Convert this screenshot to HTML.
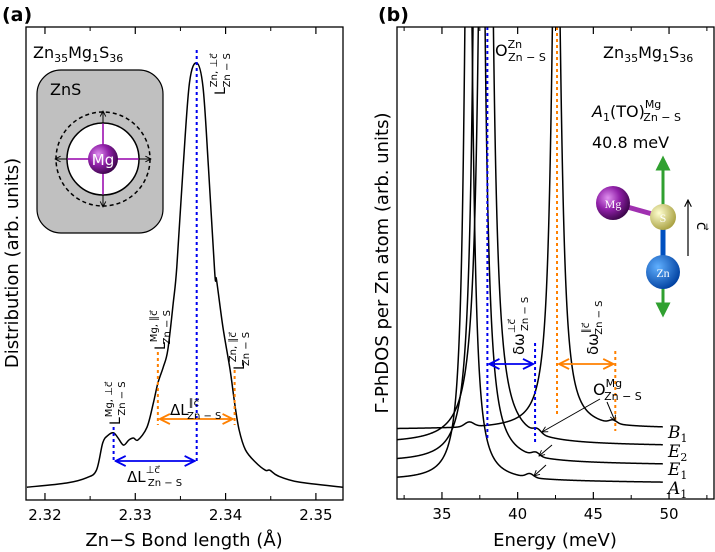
<!DOCTYPE html>
<html><head><meta charset="utf-8"><style>
html,body{margin:0;padding:0;background:#fff;}
svg{display:block;font-family:"DejaVu Sans","Liberation Sans",sans-serif;}
</style></head><body>
<svg id="fig" width="715" height="552" viewBox="0 0 715 552" xmlns="http://www.w3.org/2000/svg">
<defs>
<radialGradient id="gMg" cx="0.35" cy="0.35" r="0.7"><stop offset="0" stop-color="#e090f0"/><stop offset="0.5" stop-color="#9020a8"/><stop offset="1" stop-color="#3a0548"/></radialGradient>
<radialGradient id="gS" cx="0.35" cy="0.35" r="0.7"><stop offset="0" stop-color="#ffffd0"/><stop offset="1" stop-color="#a8a040"/></radialGradient>
<radialGradient id="gZn" cx="0.35" cy="0.35" r="0.7"><stop offset="0" stop-color="#60b0ff"/><stop offset="1" stop-color="#0040a0"/></radialGradient>
<clipPath id="clipA"><rect x="26" y="27" width="317" height="473"/></clipPath>
<clipPath id="clipB"><rect x="397" y="27" width="317" height="472"/></clipPath>
<marker id="ab" viewBox="0 0 10 10" refX="9" refY="5" markerWidth="7" markerHeight="7" orient="auto-start-reverse"><path d="M1,1 L9,5 L1,9" fill="none" stroke="#0000ee" stroke-width="1.5"/></marker>
<marker id="ao" viewBox="0 0 10 10" refX="9" refY="5" markerWidth="7" markerHeight="7" orient="auto-start-reverse"><path d="M1,1 L9,5 L1,9" fill="none" stroke="#ff8000" stroke-width="1.5"/></marker>
<marker id="ak" viewBox="0 0 10 10" refX="9" refY="5" markerWidth="7" markerHeight="7" orient="auto-start-reverse"><path d="M1,1 L9,5 L1,9" fill="none" stroke="#000" stroke-width="1.3"/></marker>
<marker id="ag" viewBox="0 0 10 10" refX="5" refY="5" markerWidth="5" markerHeight="5" orient="auto"><path d="M0,0 L10,5 L0,10 Z" fill="#30a030"/></marker>
</defs>

<text x="2" y="21" font-size="19" font-weight="bold">(a)</text>
<text x="378" y="21" font-size="19" font-weight="bold">(b)</text>

<g id="panelA"></g>
<g id="panelB"></g>

<text transform="translate(18,263) rotate(-90)" text-anchor="middle" font-size="18">Distribution (arb. units)</text>
<text x="184" y="546" text-anchor="middle" font-size="18">Zn−S Bond length (Å)</text>
<text x="33" y="58" font-size="16">Zn<tspan font-size="11" dy="4">35</tspan><tspan dy="-4">Mg</tspan><tspan font-size="11" dy="4">1</tspan><tspan dy="-4">S</tspan><tspan font-size="11" dy="4">36</tspan></text>
<g>
<rect x="37" y="70" width="126" height="163" rx="24" fill="#c0c0c0" stroke="#000" stroke-width="1.2"/>
<text x="50" y="95" font-size="16">ZnS</text>
<circle cx="103" cy="159" r="47" fill="none" stroke="#000" stroke-width="1.5" stroke-dasharray="4,3"/>
<circle cx="103" cy="159" r="36" fill="#fff" stroke="#000" stroke-width="1.5"/>
<g stroke="#b040c0" stroke-width="2"><line x1="67" y1="159" x2="139" y2="159"/><line x1="103" y1="123" x2="103" y2="195"/></g>
<g stroke="#000" stroke-width="1" marker-end="url(#ak)"><line x1="103" y1="124" x2="103" y2="111"/><line x1="103" y1="194" x2="103" y2="207"/><line x1="68" y1="159" x2="55" y2="159"/><line x1="138" y1="159" x2="151" y2="159"/></g>
<circle cx="103" cy="159" r="15" fill="url(#gMg)"/>
<text x="103" y="165" text-anchor="middle" font-size="15" fill="#fff">Mg</text>
</g>

<text transform="translate(388,263) rotate(-90)" text-anchor="middle" font-size="18">Γ-PhDOS per Zn atom (arb. units)</text>
<text x="555" y="546" text-anchor="middle" font-size="18">Energy (meV)</text>
<text x="603" y="58" font-size="16">Zn<tspan font-size="11" dy="4">35</tspan><tspan dy="-4">Mg</tspan><tspan font-size="11" dy="4">1</tspan><tspan dy="-4">S</tspan><tspan font-size="11" dy="4">36</tspan></text>
<text x="495" y="56" font-size="16">O<tspan font-size="11" dy="-8">Zn</tspan><tspan font-size="11" dx="-14" dy="13">Zn − S</tspan></text>
<text x="592" y="117" font-size="16"><tspan font-style="italic">A</tspan><tspan font-size="11" dy="4">1</tspan><tspan dy="-4">(TO)</tspan><tspan font-size="11" dy="-9">Mg</tspan><tspan font-size="11" dx="-18" dy="13">Zn − S</tspan></text>
<text x="592" y="148" font-size="16">40.8 meV</text>
<g>
<line x1="613" y1="203" x2="663" y2="217" stroke="#a030b0" stroke-width="5"/>
<line x1="663" y1="217" x2="663" y2="272" stroke="#0050c0" stroke-width="5"/>
<line x1="663" y1="205" x2="663" y2="163" stroke="#30a030" stroke-width="3" marker-end="url(#ag)"/>
<line x1="663" y1="285" x2="663" y2="310" stroke="#30a030" stroke-width="3" marker-end="url(#ag)"/>
<circle cx="613" cy="203" r="17" fill="url(#gMg)"/>
<circle cx="663" cy="217" r="13" fill="url(#gS)"/>
<circle cx="663" cy="272" r="17" fill="url(#gZn)"/>
<text x="613" y="208" text-anchor="middle" font-size="12" fill="#fff" font-family="Liberation Serif,serif">Mg</text>
<text x="663" y="222" text-anchor="middle" font-size="12" fill="#fff" font-family="Liberation Serif,serif">S</text>
<text x="663" y="277" text-anchor="middle" font-size="12" fill="#fff" font-family="Liberation Serif,serif">Zn</text>
<line x1="688" y1="256" x2="688" y2="200" stroke="#000" stroke-width="1.2" marker-end="url(#ak)"/>
<text transform="translate(697,226) rotate(90)" text-anchor="middle" font-size="15">c⃗</text>
</g>
<g>
<text x="593" y="395" font-size="16">O<tspan font-size="11" dy="-8">Mg</tspan><tspan font-size="11" dx="-18" dy="13">Zn − S</tspan></text>
<g stroke="#000" stroke-width="1" fill="none" marker-end="url(#ak)">
<line x1="600" y1="399" x2="542" y2="432"/>
<line x1="607" y1="402" x2="615" y2="421"/>
<line x1="552" y1="445" x2="539" y2="456"/>
<line x1="546" y1="465" x2="534" y2="476"/>
</g></g>
<g font-size="17" font-style="italic" font-family="DejaVu Serif,Liberation Serif,serif">
<text x="668" y="438">B<tspan font-size="11" dy="4" font-style="normal">1</tspan></text>
<text x="668" y="457">E<tspan font-size="11" dy="4" font-style="normal">2</tspan></text>
<text x="668" y="475">E<tspan font-size="11" dy="4" font-style="normal">1</tspan></text>
<text x="668" y="494">A<tspan font-size="11" dy="4" font-style="normal">1</tspan></text>
</g>
</svg>
<script>
// ---------- Panel A data ----------
const bondLengths = [2.3180,2.3224,2.3246,2.3257,2.3264,2.3270,2.3276,2.3281,2.3287,2.3293,2.3298,2.3303,2.3313,2.3320,2.3325,2.3331,2.3336,2.3342,2.3346,2.3353,2.3360,2.3368,2.3375,2.3381,2.3388,2.3390,2.3397,2.3405,2.3410,2.3415,2.3422,2.3433,2.3444,2.3449,2.3458,2.3481,2.3530];
const distribution = [2.7,3.6,4.7,6.3,12.1,13.7,14.2,13.1,11.6,12.7,13.1,12.7,15.4,20.5,24.7,28.1,31.7,41.6,49.3,70.4,88.2,92.4,87.3,70.4,48.0,46.5,36.6,27.5,20.5,14.8,10.6,8.0,6.3,6.3,5.1,3.8,2.7];
const aTicks = [2.32,2.33,2.34,2.35];
const aTickLabels = ["2.32","2.33","2.34","2.35"];
const aMinorTicks = [2.325,2.335,2.345];
const markLperpMg = 2.3276, markLperpZn = 2.3368, markLparMg = 2.3325, markLparZn = 2.3410;

// ---------- Panel B data ----------
const energyTicks = [35,40,45,50];
const energyTickLabels = ["35","40","45","50"];
const energyMinor = [32.5,37.5,42.5,47.5,52.5];
const modes = ["B1","E2","E1","A1"];
const peakCenters = [42.55,37.9,37.45,36.75];
const peakWidths = [0.35,0.3,0.3,0.3];
const peakStrengths = [16,30,23,14];
const baselineLeft = [14.8,11.7,7.8,4.0];
const baselineRight = [15.0,11.2,7.2,3.4];
const shoulderCenters = [46.3,41.3,41.2,40.8];
const shoulderHeights = [0.7,0.9,0.8,0.8];
const b1BumpCenter = 36.8, b1BumpHeight = 1.0;
const markOperp = 38.0, markOperpMg = 41.15, markOpar = 42.6, markOparMg = 46.45;

const NS = "http://www.w3.org/2000/svg";
function mk(tag, attrs, parent){const e=document.createElementNS(NS,tag);for(const k in attrs)e.setAttribute(k,attrs[k]);parent.appendChild(e);return e;}

const A = {x0:26,x1:343,y0:500,y1:27,xmin:2.3179,xmax:2.3530,ymin:0,ymax:100};
const ax = v => A.x0 + (v-A.xmin)/(A.xmax-A.xmin)*(A.x1-A.x0);
const ay = v => A.y0 - (v-A.ymin)/(A.ymax-A.ymin)*(A.y0-A.y1);
const gA = document.getElementById('panelA');

function catmull(pts){
  let d = "M"+pts[0][0].toFixed(2)+","+pts[0][1].toFixed(2);
  for(let i=0;i<pts.length-1;i++){
    const p0=pts[Math.max(0,i-1)],p1=pts[i],p2=pts[i+1],p3=pts[Math.min(pts.length-1,i+2)];
    const c1=[p1[0]+(p2[0]-p0[0])/6,p1[1]+(p2[1]-p0[1])/6];
    const c2=[p2[0]-(p3[0]-p1[0])/6,p2[1]-(p3[1]-p1[1])/6];
    d+=" C"+c1[0].toFixed(2)+","+c1[1].toFixed(2)+" "+c2[0].toFixed(2)+","+c2[1].toFixed(2)+" "+p2[0].toFixed(2)+","+p2[1].toFixed(2);
  }
  return d;
}
const ptsA = bondLengths.map((b,i)=>[ax(b),ay(distribution[i])]);
const curveA = mk('path',{d:catmull(ptsA),fill:'none',stroke:'#000','stroke-width':1.5,'clip-path':'url(#clipA)'},gA);



function vline(g,x,yTop,yBot,color,name){
  const l=mk('line',{x1:x,y1:yTop,x2:x,y2:yBot,stroke:color,'stroke-width':2,'stroke-dasharray':'3,3'},g);
  
  
}
function harrow(g,xa,xb,y,marker,color,name){
  const l=mk('line',{x1:xa+2,y1:y,x2:xb-2,y2:y,stroke:color,'stroke-width':1.8,'marker-start':'url(#'+marker+')','marker-end':'url(#'+marker+')'},g);
  
  
}
vline(gA,ax(markLperpZn),50,463,'#0000ee','l-perp-zn-marker');
vline(gA,ax(markLperpMg),427,463,'#0000ee','l-perp-mg-marker');
harrow(gA,ax(markLperpMg),ax(markLperpZn),461,'ab','#0000ee','delta-l-perp-arrow');
vline(gA,ax(markLparMg),352,425,'#ff8000','l-par-mg-marker');
vline(gA,ax(markLparZn),370,425,'#ff8000','l-par-zn-marker');
harrow(gA,ax(markLparMg),ax(markLparZn),419,'ao','#ff8000','delta-l-par-arrow');

function rotLabel(g,x,y,sup,name){
  const t=mk('text',{transform:'translate('+x+','+y+') rotate(-90)','font-size':14},g);
  t.innerHTML='L<tspan font-size="10" dy="-8">'+sup+'</tspan><tspan font-size="10" dx="-34" dy="13">Zn − S</tspan>';
  
  
}
rotLabel(gA,225,95,'Zn, ⊥c⃗','l-zn-perp-label');
rotLabel(gA,120,425,'Mg, ⊥c⃗','l-mg-perp-label');
rotLabel(gA,165,350,'Mg, ∥c⃗','l-mg-par-label');
rotLabel(gA,244,370,'Zn, ∥c⃗','l-zn-par-label');
const dlp=mk('text',{x:170,y:415,'font-size':15},gA);
dlp.innerHTML='ΔL<tspan font-size="10" dy="-9">∥c⃗</tspan><tspan font-size="10" dx="-12" dy="13">Zn − S</tspan>';


const dlq=mk('text',{x:127,y:482,'font-size':15},gA);
dlq.innerHTML='ΔL<tspan font-size="10" dy="-9">⊥c⃗</tspan><tspan font-size="10" dx="-12" dy="13">Zn − S</tspan>';



function frame(g,P,name){
  const r=mk('rect',{x:P.x0,y:P.y1,width:P.x1-P.x0,height:P.y0-P.y1,fill:'none',stroke:'#000','stroke-width':1.3},g);
  
  
}
function ticks(g,P,fx,major,labels,minor,prefix){
  major.forEach((v,i)=>{
    const x=fx(v);
    const t1=mk('line',{x1:x,y1:P.y0,x2:x,y2:P.y0-7,stroke:'#000','stroke-width':1.2},g);
    
    
    mk('line',{x1:x,y1:P.y1,x2:x,y2:P.y1+7,stroke:'#000','stroke-width':1.2},g);
    const tl=mk('text',{x:x,y:P.y0+20,'text-anchor':'middle','font-size':15},g);
    tl.textContent=labels[i];
    
    
  });
  minor.forEach(v=>{
    const x=fx(v);
    if(x < P.x0 || x > P.x1) return;
    mk('line',{x1:x,y1:P.y0,x2:x,y2:P.y0-4,stroke:'#000','stroke-width':1},g);
    mk('line',{x1:x,y1:P.y1,x2:x,y2:P.y1+4,stroke:'#000','stroke-width':1},g);
  });
}
ticks(gA,A,ax,aTicks,aTickLabels,aMinorTicks,'x-a');
frame(gA,A,'plot-frame-a');

const B = {x0:397,x1:714,y0:499,y1:27,xmin:32.03,xmax:52.97,ymin:0,ymax:100};
const bx = v => B.x0 + (v-B.xmin)/(B.xmax-B.xmin)*(B.x1-B.x0);
const by = v => B.y0 - (v-B.ymin)/(B.ymax-B.ymin)*(B.y0-B.y1);
const gB = document.getElementById('panelB');

function modeValue(i,e){
  const t=(e-B.xmin)/(B.xmax-B.xmin);
  const base=baselineLeft[i]+(baselineRight[i]-baselineLeft[i])*t;
  const g=peakWidths[i];
  const peak=peakStrengths[i]/((e-peakCenters[i])**2+g*g);
  let sh=shoulderHeights[i]*Math.exp(-((e-shoulderCenters[i])**2)/(2*0.25*0.25));
  if(i===0) sh+=b1BumpHeight*Math.exp(-((e-b1BumpCenter)**2)/(2*0.3*0.3));
  return base+peak+sh;
}
modes.forEach((m,i)=>{
  let d='';
  const eEnd=49.6;
  for(let e=32.03; e <= eEnd; e+=0.02){
    const v=Math.min(modeValue(i,e),120);
    d+=(d?'L':'M')+bx(e).toFixed(2)+','+by(v).toFixed(2);
  }
  const p=mk('path',{d:d,fill:'none',stroke:'#000','stroke-width':1.5,'clip-path':'url(#clipB)'},gB);
  
  
});
vline(gB,bx(markOperp),27,440,'#0000ee','o-perp-zn-marker');
vline(gB,bx(markOperpMg),343,445,'#0000ee','o-perp-mg-marker');
harrow(gB,bx(markOperp),bx(markOperpMg),364,'ab','#0000ee','delta-omega-perp-arrow');
vline(gB,bx(markOpar),27,415,'#ff8000','o-par-zn-marker');
vline(gB,bx(markOparMg),351,431,'#ff8000','o-par-mg-marker');
harrow(gB,bx(markOpar),bx(markOparMg),364,'ao','#ff8000','delta-omega-par-arrow');

function omegaLabel(g,x,y,sup,name){
  const t=mk('text',{transform:'translate('+x+','+y+') rotate(-90)','font-size':15},g);
  t.innerHTML='δω<tspan font-size="10" dy="-9">'+sup+'</tspan><tspan font-size="10" dx="-12" dy="13">Zn − S</tspan>';
  
  
}
omegaLabel(gB,524,355,'⊥c⃗','delta-omega-perp-label');
omegaLabel(gB,598,355,'∥c⃗','delta-omega-par-label');

ticks(gB,B,bx,energyTicks,energyTickLabels,energyMinor,'x-b');
frame(gB,B,'plot-frame-b');
</script>
</body></html>
